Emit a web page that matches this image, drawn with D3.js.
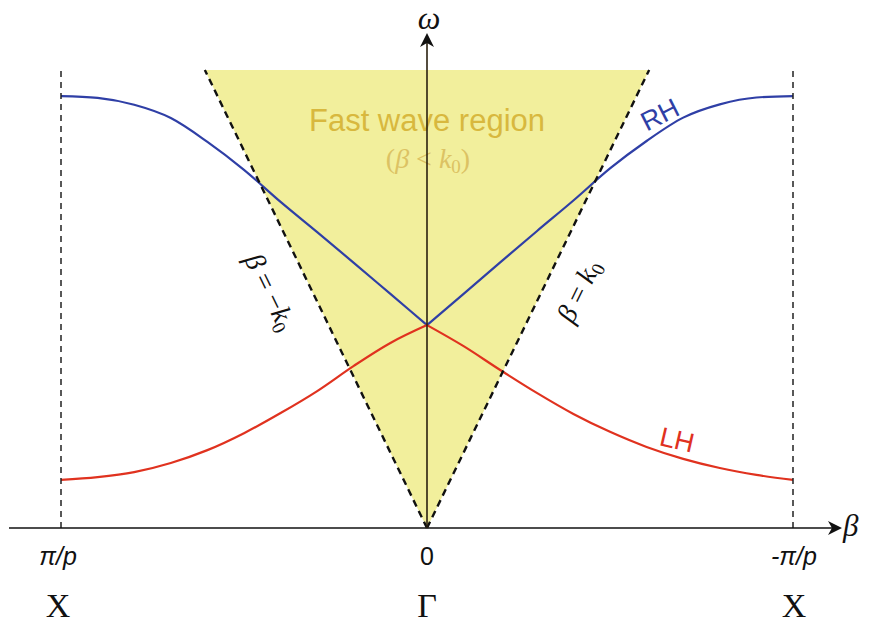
<!DOCTYPE html>
<html>
<head>
<meta charset="utf-8">
<script src="https://cdn.jsdelivr.net/npm/d3@7"></script>
<style>
  html, body { margin: 0; padding: 0; background: #fff; }
  svg { display: block; }
</style>
</head>
<body>
<svg id="chart" width="877" height="625"></svg>
<script>
// Normalised Bloch wavenumber β (in units of π/p) and frequency ω
const betaLeft  = [-1, -0.9, -0.8, -0.7, -0.6, -0.5, -0.4, -0.3, -0.2, -0.1, 0];
const betaRight = [0, 0.1, 0.2, 0.3, 0.4, 0.5, 0.6, 0.7, 0.8, 0.9, 1];

// Right-handed branch
const rhLeft  = [0.943, 0.939, 0.924, 0.895, 0.843, 0.782, 0.712, 0.646, 0.579, 0.511, 0.443];
const rhRight = [0.443, 0.511, 0.580, 0.648, 0.715, 0.785, 0.845, 0.896, 0.925, 0.940, 0.943];

// Left-handed branch
const lhLeft  = [0.105, 0.111, 0.122, 0.142, 0.170, 0.207, 0.251, 0.299, 0.354, 0.404, 0.443];
const lhRight = [0.443, 0.397, 0.345, 0.295, 0.249, 0.210, 0.177, 0.151, 0.131, 0.116, 0.105];

// Light line β = ±k0 : β/ω slope, drawn up to ω = 1
const lightSlope = 0.607;
const omegaTop = 1;

// Axis tick labels
const tickBetas = [-1, 0, 1];
const tickLabels = ["π/p", "0", "-π/p"];
const pointLabels = ["X", "Γ", "X"];

const svg = d3.select("#chart");
const x = d3.scaleLinear().domain([-1, 1]).range([61, 793]);
const y = d3.scaleLinear().domain([0, 1]).range([528, 70]);

const blue = "#2f3fa6";
const red = "#e0321f";

// Fast wave region (inside the light cone)
const cone = [[0, 0], [-lightSlope * omegaTop, omegaTop], [lightSlope * omegaTop, omegaTop]];
svg.append("path")
  .attr("d", d3.line().x(d => x(d[0])).y(d => y(d[1]))(cone) + "Z")
  .attr("fill", "#f2ef9c");

svg.append("text")
  .attr("x", x(0)).attr("y", 131)
  .attr("text-anchor", "middle")
  .attr("font-family", "Liberation Sans, Arial, sans-serif")
  .attr("font-size", 31)
  .attr("fill", "#d8b83e")
  .text("Fast wave region");

const fw = svg.append("text")
  .attr("x", x(0) + 1).attr("y", 168)
  .attr("text-anchor", "middle")
  .attr("font-family", "Liberation Serif, Times New Roman, serif")
  .attr("font-size", 28)
  .attr("fill", "#dcc263");
fw.append("tspan").text("(");
fw.append("tspan").attr("font-style", "italic").text("β");
fw.append("tspan").text(" < ");
fw.append("tspan").attr("font-style", "italic").text("k");
fw.append("tspan").attr("font-size", 19).attr("dy", 5).text("0");
fw.append("tspan").attr("dy", -5).text(")");

// Dispersion branches
const line = d3.line().x(d => x(d[0])).y(d => y(d[1])).curve(d3.curveMonotoneX);
const branches = [
  { b: betaLeft,  w: rhLeft,  c: blue },
  { b: betaRight, w: rhRight, c: blue },
  { b: betaLeft,  w: lhLeft,  c: red },
  { b: betaRight, w: lhRight, c: red }
];
branches.forEach(s => {
  svg.append("path")
    .attr("d", line(s.b.map((v, i) => [v, s.w[i]])))
    .attr("fill", "none")
    .attr("stroke", s.c)
    .attr("stroke-width", 2.2)
    .attr("stroke-linejoin", "round");
});

// Light lines
[-1, 1].forEach(sgn => {
  svg.append("line")
    .attr("x1", x(0)).attr("y1", y(0))
    .attr("x2", x(sgn * lightSlope * omegaTop)).attr("y2", y(omegaTop))
    .attr("stroke", "#111")
    .attr("stroke-width", 2.4)
    .attr("stroke-dasharray", "7,5");
});

// Brillouin zone edges
[-1, 1].forEach(b => {
  svg.append("line")
    .attr("x1", x(b)).attr("y1", y(0))
    .attr("x2", x(b)).attr("y2", y(omegaTop))
    .attr("stroke", "#222")
    .attr("stroke-width", 1.5)
    .attr("stroke-dasharray", "6,5");
});

// Axes with arrow heads
svg.append("line")
  .attr("x1", 9).attr("y1", y(0)).attr("x2", 836).attr("y2", y(0))
  .attr("stroke", "#111").attr("stroke-width", 1.6);
svg.append("path")
  .attr("d", `M842,${y(0)} L828,${y(0) - 7} L832,${y(0)} L828,${y(0) + 7} Z`)
  .attr("fill", "#111");

svg.append("line")
  .attr("x1", x(0)).attr("y1", y(0)).attr("x2", x(0)).attr("y2", 40)
  .attr("stroke", "#2a2010").attr("stroke-width", 1.6);
svg.append("path")
  .attr("d", `M${x(0)},33 L${x(0) - 7},47 L${x(0)},43 L${x(0) + 7},47 Z`)
  .attr("fill", "#111");

svg.append("text")
  .attr("x", x(0) + 2).attr("y", 29)
  .attr("text-anchor", "middle")
  .attr("font-family", "Liberation Serif, Times New Roman, serif")
  .attr("font-style", "italic")
  .attr("font-size", 32)
  .attr("fill", "#111")
  .text("ω");

svg.append("text")
  .attr("x", 843).attr("y", 536)
  .attr("font-family", "Liberation Serif, Times New Roman, serif")
  .attr("font-style", "italic")
  .attr("font-size", 31)
  .attr("fill", "#111")
  .text("β");

// Tick labels and symmetry points
tickBetas.forEach((b, i) => {
  const off = i === 0 ? -3 : (i === 2 ? 1 : 0);
  svg.append("text")
    .attr("x", x(b) + off).attr("y", 565)
    .attr("text-anchor", "middle")
    .attr("font-family", "Liberation Sans, Arial, sans-serif")
    .attr("font-style", i === 1 ? "normal" : "italic")
    .attr("font-size", 25)
    .attr("fill", "#111")
    .text(tickLabels[i]);
  svg.append("text")
    .attr("x", x(b) + off).attr("y", 617)
    .attr("text-anchor", "middle")
    .attr("font-family", "Liberation Serif, Times New Roman, serif")
    .attr("font-size", 34)
    .attr("fill", "#111")
    .text(pointLabels[i]);
});

// Light line labels
function lightLabel(cx, cy, angle, minus) {
  const t = svg.append("text")
    .attr("transform", `translate(${cx},${cy}) rotate(${angle})`)
    .attr("y", 9)
    .attr("text-anchor", "middle")
    .attr("font-family", "Liberation Serif, Times New Roman, serif")
    .attr("font-size", 28)
    .attr("fill", "#111");
  t.append("tspan").attr("font-style", "italic").text("β");
  t.append("tspan").text(minus ? " = −" : " = ");
  t.append("tspan").attr("font-style", "italic").text("k");
  t.append("tspan").attr("font-size", 19).attr("dy", 5).text("0");
}
lightLabel(270, 292, 64, true);
lightLabel(579, 291, -64, false);

// Branch labels
svg.append("text")
  .attr("transform", "translate(660,115) rotate(-27)")
  .attr("y", 9)
  .attr("text-anchor", "middle")
  .attr("font-family", "Liberation Sans, Arial, sans-serif")
  .attr("font-size", 27)
  .attr("fill", blue)
  .text("RH");

svg.append("text")
  .attr("transform", "translate(677,440) rotate(13)")
  .attr("y", 9)
  .attr("text-anchor", "middle")
  .attr("font-family", "Liberation Sans, Arial, sans-serif")
  .attr("font-size", 27)
  .attr("fill", red)
  .text("LH");
</script>
</body>
</html>
